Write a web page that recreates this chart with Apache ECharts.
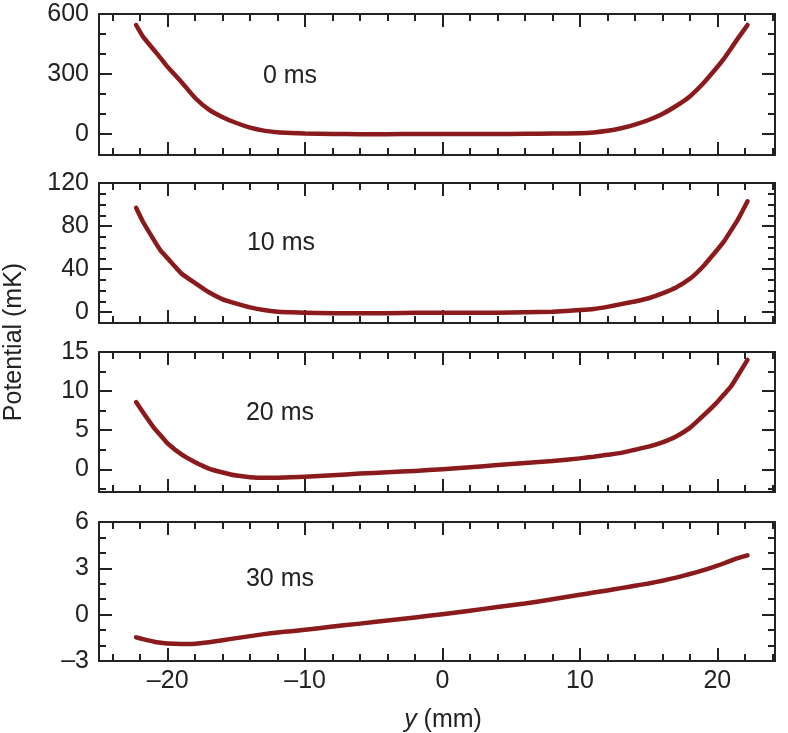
<!DOCTYPE html>
<html>
<head>
<meta charset="utf-8">
<script src="https://cdn.jsdelivr.net/npm/echarts@6/dist/echarts.min.js"></script>
<style>
html,body{margin:0;padding:0;background:#fff;}
#chart{width:788px;height:733px;}
</style>
</head>
<body>
<div id="chart"></div>
<script>
// x positions (mm)
const yPos = [-22.3, -21.8, -21, -20.5, -20, -19, -18, -17, -16, -15, -14, -13, -12, -11, -10, -8, -6, -4, -2, 0, 2, 4, 6, 8, 10, 11, 12, 13, 14, 15, 16, 17, 18, 19, 20, 20.5, 21, 21.5, 22.2];

// Potential (mK) at each time
const pot0ms  = [545, 487, 420, 378, 335, 260, 180, 122, 84, 55, 32, 17, 9, 5, 2, 0, -1, -1, 0, 0, 0, 0, 1, 2, 4, 8, 16, 29, 47, 70, 100, 140, 188, 255, 335, 378, 428, 478, 545];
const pot10ms = [97, 84, 67, 57, 50, 36, 27, 18.5, 12, 8, 4.5, 2, 0.5, 0, -0.5, -1, -1, -1, -0.5, -0.5, -0.5, -0.5, 0, 0.5, 2, 3, 5, 7.5, 10, 13, 17.5, 23, 31, 43, 58, 66, 76, 86, 103];
const pot20ms = [8.6, 7.3, 5.3, 4.3, 3.3, 1.9, 0.9, 0.1, -0.4, -0.8, -1.0, -1.08, -1.08, -1.02, -0.95, -0.77, -0.55, -0.38, -0.2, 0, 0.25, 0.55, 0.8, 1.05, 1.4, 1.6, 1.85, 2.1, 2.5, 2.9, 3.45, 4.2, 5.3, 6.9, 8.6, 9.6, 10.6, 12.0, 14.0];
const pot30ms = [-1.47, -1.58, -1.75, -1.82, -1.87, -1.9, -1.88, -1.78, -1.65, -1.52, -1.39, -1.26, -1.15, -1.07, -0.98, -0.77, -0.58, -0.38, -0.18, 0.03, 0.26, 0.49, 0.72, 1.0, 1.29, 1.43, 1.57, 1.72, 1.87, 2.02, 2.2, 2.4, 2.63, 2.88, 3.17, 3.33, 3.5, 3.66, 3.84];

const panelLabels = ['0 ms', '10 ms', '20 ms', '30 ms'];
const panelSeries = [pot0ms, pot10ms, pot20ms, pot30ms];

// axis ticks
const xMajorTicks = [-20, -10, 0, 10, 20];
const xMinorTicks = [-24, -22, -18, -16, -14, -12, -8, -6, -4, -2, 2, 4, 6, 8, 12, 14, 16, 18, 22, 24];
const yMajorTicks = [[0, 300, 600], [0, 40, 80, 120], [0, 5, 10, 15], [-3, 0, 3, 6]];
const yMinorTicks = [[100, 200, 400, 500], [10, 20, 30, 50, 60, 70, 90, 100, 110], [-2.5, 2.5, 7.5, 12.5], [-2, -1, 1, 2, 4, 5]];
const yMins = [-105, -10, -2.9, -3];
const yMaxs = [600, 120, 15, 6];
const X_MIN = -25, X_MAX = 24.2;

// layout
const gridTops = [14, 183, 352, 522];
const gridHeights = [141, 140, 140, 139];
const GRID_LEFT = 99, GRID_RIGHT = 13;
const annot = [[290, 76], [281, 243], [280, 413], [280, 579]];

const FONT = 'Liberation Sans, Arial, Helvetica, sans-serif';
const FS = 25;
const LINE_COLOR = '#8b1a1c';
const fmt = v => String(v).replace('-', '\u2013');

const grids = [], xAxes = [], yAxes = [], series = [], graphics = [];

function mkAxis(kind, gi, pos, ticks, len, showLine, labels) {
  const isX = kind === 'x';
  return {
    type: 'value', gridIndex: gi, position: pos,
    min: isX ? X_MIN : yMins[gi], max: isX ? X_MAX : yMaxs[gi],
    axisLine: { show: showLine, onZero: false, lineStyle: { color: '#222', width: 2 } },
    axisTick: { show: true, inside: true, length: len, customValues: ticks, lineStyle: { color: '#222', width: 2 } },
    axisLabel: labels ? {
      show: true, customValues: ticks, formatter: fmt, color: '#222',
      fontFamily: FONT, fontSize: FS, margin: isX ? 8 : 10
    } : { show: false },
    splitLine: { show: false }
  };
}

for (let i = 0; i < 4; i++) {
  grids.push({ left: GRID_LEFT, right: GRID_RIGHT, top: gridTops[i], height: gridHeights[i], containLabel: false });
  xAxes.push(mkAxis('x', i, 'bottom', xMajorTicks, 13, true, i === 3));
  xAxes.push(mkAxis('x', i, 'bottom', xMinorTicks, 7, false, false));
  xAxes.push(mkAxis('x', i, 'top', xMajorTicks, 13, true, false));
  xAxes.push(mkAxis('x', i, 'top', xMinorTicks, 7, false, false));
  yAxes.push(mkAxis('y', i, 'left', yMajorTicks[i], 13, true, true));
  yAxes.push(mkAxis('y', i, 'left', yMinorTicks[i], 7, false, false));
  yAxes.push(mkAxis('y', i, 'right', yMajorTicks[i], 13, true, false));
  yAxes.push(mkAxis('y', i, 'right', yMinorTicks[i], 7, false, false));
  series.push({
    type: 'line', xAxisIndex: 4 * i, yAxisIndex: 4 * i,
    data: yPos.map((x, k) => [x, panelSeries[i][k]]),
    showSymbol: false, smooth: 0.15, clip: false,
    lineStyle: { color: LINE_COLOR, width: 4.5, cap: 'round', join: 'round' }
  });
  graphics.push({
    type: 'text', x: annot[i][0], y: annot[i][1],
    style: { text: panelLabels[i], fill: '#222', font: FS + 'px ' + FONT, align: 'center', verticalAlign: 'middle' }
  });
}

graphics.push({
  type: 'text', x: 14, y: 342, rotation: Math.PI / 2,
  style: { text: 'Potential (mK)', fill: '#222', font: FS + 'px ' + FONT, align: 'center', verticalAlign: 'middle' }
});
graphics.push({
  type: 'text', x: 443, y: 720,
  style: {
    text: '{i|y} (mm)', fill: '#222', fontFamily: FONT, fontSize: FS, align: 'center', verticalAlign: 'middle',
    rich: { i: { fontStyle: 'italic', fontFamily: FONT, fontSize: FS, fill: '#222' } }
  }
});

const chart = echarts.init(document.getElementById('chart'), null, { renderer: 'canvas' });
chart.setOption({
  animation: false,
  backgroundColor: '#fff',
  grid: grids, xAxis: xAxes, yAxis: yAxes, series: series, graphic: graphics
});
</script>
</body>
</html>
